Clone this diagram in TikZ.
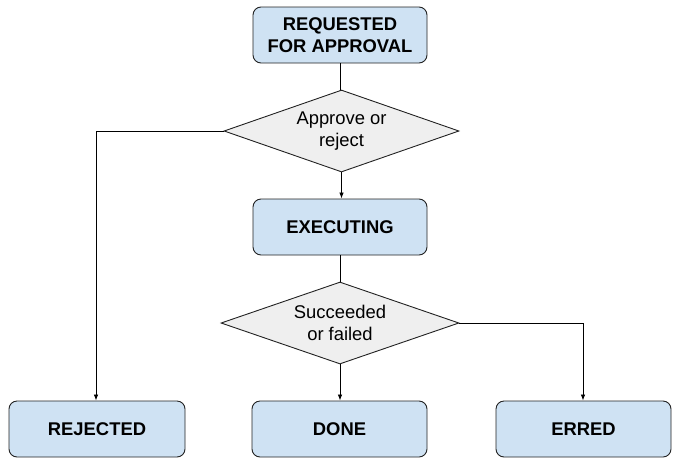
\documentclass[tikz,border=0pt]{standalone}
\usepackage{fontspec}
\setmainfont{Liberation Sans}
\usetikzlibrary{shapes.geometric,arrows.meta}
\definecolor{boxblue}{HTML}{CFE2F3}
\definecolor{diagray}{HTML}{EFEFEF}
\definecolor{edge}{HTML}{222222}
\tikzset{
  statebox/.style={draw=edge, line width=0.9pt, fill=boxblue, rounded corners=8pt,
    minimum width=174pt, minimum height=56pt, align=center, inner sep=0pt,
    font=\fontsize{18.4}{22}\selectfont\bfseries},
  choice/.style={draw=edge, line width=0.9pt, fill=diagray, diamond, aspect=2.87,
    inner sep=0pt, minimum width=236pt, minimum height=82pt, align=center,
    font=\fontsize{18.4}{21.5}\selectfont},
  flow/.style={draw=black, line width=0.8pt, -{Latex[length=6pt,width=4.5pt]}},
  plain/.style={draw=black, line width=0.8pt},
}
\begin{document}
\begin{tikzpicture}[x=1pt,y=-1pt]
\useasboundingbox (0,0) rectangle (680,464);
\node[statebox] (req) at (340,35) {REQUESTED\\FOR APPROVAL};
\node[choice, minimum width=235pt] (d1) at (341.5,131) {Approve or\\reject};
\node[statebox] (exec) at (340,227) {EXECUTING};
\node[choice, minimum width=238pt] (d2) at (340,323) {Succeeded\\or failed};
\node[statebox, minimum width=176pt] (rej) at (97,429) {REJECTED};
\node[statebox, minimum width=175pt] (done) at (339.5,429) {DONE};
\node[statebox, minimum width=175pt] (err) at (583.5,429) {ERRED};
\coordinate (c1) at (96,131);
\coordinate (c2) at (583,323);
\draw[plain] (req.south) -- (req.south |- d1.north);
\draw[flow] (d1.south) -- (d1.south |- exec.north);
\draw[plain] (exec.south) -- (d2.north);
\draw[flow] (d1.west) -- (c1) -- (c1 |- rej.north);
\draw[flow] (d2.south) -- (d2.south |- done.north);
\draw[flow] (d2.east) -- (c2) -- (c2 |- err.north);
\end{tikzpicture}
\end{document}
